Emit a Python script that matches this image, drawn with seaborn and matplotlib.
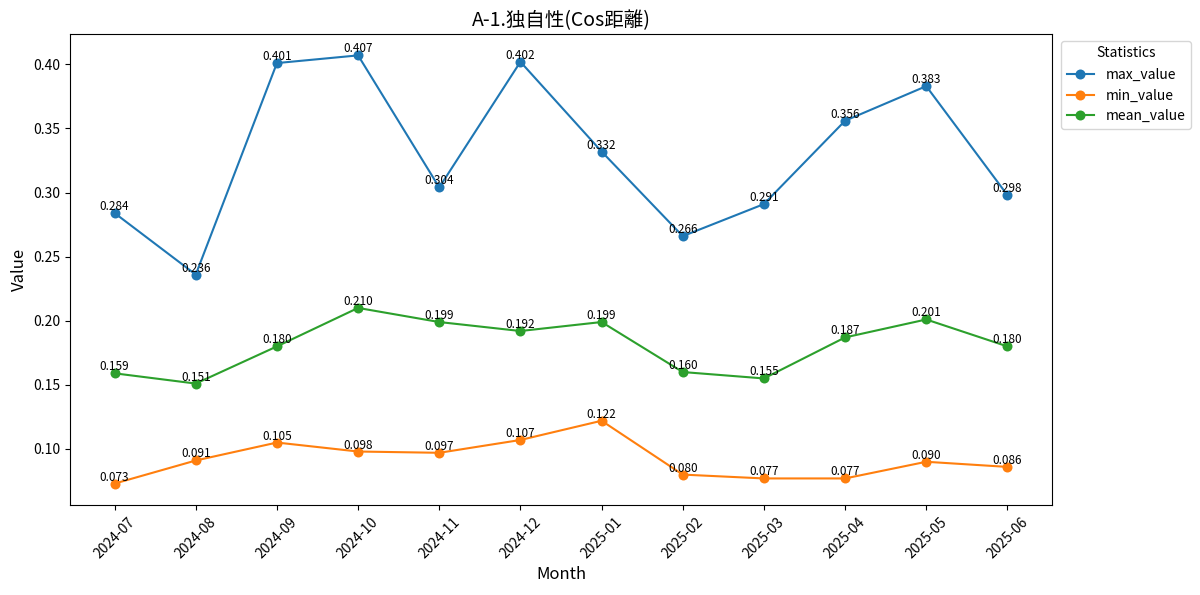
import pandas as pd
import matplotlib.pyplot as plt
import seaborn as sns

months = ["2024-07", "2024-08", "2024-09", "2024-10", "2024-11", "2024-12",
          "2025-01", "2025-02", "2025-03", "2025-04", "2025-05", "2025-06"]
max_value = [0.284, 0.236, 0.401, 0.407, 0.304, 0.402, 0.332, 0.266, 0.291, 0.356, 0.383, 0.298]
min_value = [0.073, 0.091, 0.105, 0.098, 0.097, 0.107, 0.122, 0.080, 0.077, 0.077, 0.090, 0.086]
mean_value = [0.159, 0.151, 0.180, 0.210, 0.199, 0.192, 0.199, 0.160, 0.155, 0.187, 0.201, 0.180]

df = pd.DataFrame({"Month": months, "max_value": max_value,
                   "min_value": min_value, "mean_value": mean_value})
long_df = df.melt(id_vars="Month", var_name="Statistics", value_name="Value")

plt.rcParams["font.family"] = ["Noto Sans CJK JP", "DejaVu Sans"]

fig, ax = plt.subplots(figsize=(12, 5.95), dpi=100)
sns.lineplot(data=long_df, x="Month", y="Value", hue="Statistics",
             marker="o", markersize=7.2, markeredgewidth=0, linewidth=1.5, ax=ax)

# value labels
for col in ["max_value", "min_value", "mean_value"]:
    for i, v in enumerate(df[col]):
        ax.text(i, v, f"{v:.3f}", ha="center", va="bottom", fontsize=8.5)

ax.set_title("A-1.独自性(Cos距離)", fontsize=14)
ax.set_xlabel("Month", fontsize=12)
ax.set_ylabel("Value", fontsize=12)
plt.xticks(rotation=45)
ax.legend(title="Statistics", bbox_to_anchor=(1.002, 1), loc="upper left")

fig.subplots_adjust(left=0.0583, right=0.8767, top=0.9429, bottom=0.1513)
plt.savefig("out.png")
